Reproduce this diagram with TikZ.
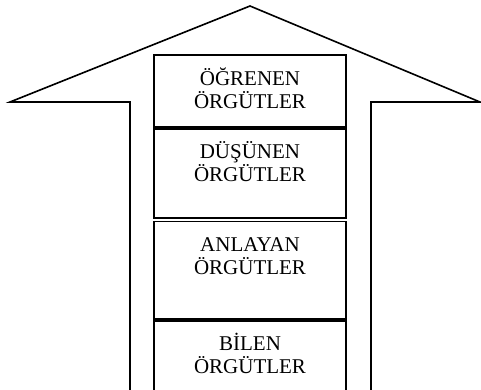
\documentclass[tikz,border=0pt]{standalone}
\usepackage{fontspec}
\setmainfont{Liberation Serif}

\begin{document}
\begin{tikzpicture}[
  x=1pt, y=-1pt,
  box/.style={draw, line width=1.8pt, minimum width=192pt, anchor=north, inner sep=0pt},
  lbl/.style={align=center, anchor=base, inner sep=0pt, font=\fontsize{21pt}{23pt}\selectfont},
  outline/.style={draw, line width=1.6pt, line join=miter},
]
\useasboundingbox (0,0) rectangle (481,389);

% Big arrow
\draw[outline] (130,400) -- (130,102) -- (10,102) -- (250,6) -- (480,102) -- (371,102) -- (371,400);

% Upper block
\node[box, minimum height=72pt] (learn) at (250,54) {};
\node[box, minimum height=89.5pt] (think) at (learn.south) {};

% Lower block
\node[box, minimum height=97.5pt] (grasp) at (250,220.5) {};
\node[box, minimum height=90pt] (know) at (grasp.south) {};

% Labels
\node[lbl] (learnT) at ([yshift=-54pt]learn.north) {ÖĞRENEN\\ÖRGÜTLER};
\node[lbl] (thinkT) at ([yshift=-54pt]think.north) {DÜŞÜNEN\\ÖRGÜTLER};
\node[lbl] (graspT) at ([yshift=-54pt]grasp.north) {ANLAYAN\\ÖRGÜTLER};
\node[lbl] (knowT) at ([yshift=-54pt]know.north) {BİLEN\\ÖRGÜTLER};
\end{tikzpicture}
\end{document}
